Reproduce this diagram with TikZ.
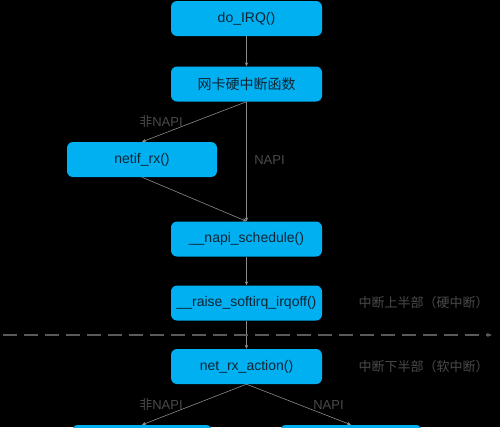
\documentclass[tikz,border=0pt]{standalone}
\usepackage{fontspec}
\setmainfont{Liberation Sans}
\newfontfamily\cjk{Noto Sans CJK SC}
\usetikzlibrary{arrows.meta}
\definecolor{boxblue}{HTML}{00B0F0}
\definecolor{boxtext}{HTML}{102535}
\definecolor{arrowgray}{HTML}{8A8A8A}
\definecolor{labelgray}{HTML}{4A4A4A}
\definecolor{dashgray}{HTML}{5A5A5A}
\begin{document}
\begin{tikzpicture}[x=1bp,y=-1bp,
  fnbox/.style={draw=none,fill=boxblue,rounded corners=6bp,minimum width=151bp,minimum height=35bp,inner sep=0pt,text=boxtext,font=\fontsize{14bp}{16bp}\selectfont},
  conn/.style={draw=arrowgray,line width=0.6bp,-{Stealth[length=4bp,width=3.5bp]}},
  lbl/.style={text=labelgray,font=\fontsize{13bp}{15bp}\selectfont,inner sep=0pt}]
\useasboundingbox (0,0) rectangle (500,427);
\fill[black] (0,0) rectangle (500,427);
\node[fnbox] (irq) at (246.5,18.5) {do\_IRQ()};
\node[fnbox] (nic) at (246.5,84) {\cjk 网卡硬中断函数};
\node[fnbox,minimum width=150bp] (netif) at (142,159.5) {netif\_rx()};
\node[fnbox] (sched) at (246.5,239) {\_\_napi\_schedule()};
\node[fnbox] (raise) at (246.5,303) {\_\_raise\_softirq\_irqoff()};
\node[fnbox] (rx) at (246.5,366.5) {net\_rx\_action()};
\begin{scope}
\clip (0,0) rectangle (500,427);
\node[fnbox,minimum width=140bp] (left) at (142,442.5) {};
\node[fnbox,minimum width=142bp] (right) at (351,442.5) {};
\end{scope}
\draw[conn] (irq.south) -- (nic.north);
\draw[conn] (nic.south) -- (netif.north);
\draw[conn] (nic.south) -- (sched.north);
\draw[conn] (netif.south) -- (sched.north);
\draw[conn] (sched.south) -- (raise.north);
\draw[conn] (raise.south) -- (rx.north);
\draw[conn] (rx.south) -- (left.north);
\draw[conn] (rx.south) -- (right.north);
\coordinate (dl) at (3,335);
\coordinate (dr) at (492,335);
\draw[draw=dashgray,line width=1.5bp,dash pattern=on 14bp off 7bp,-{Stealth[length=5bp,width=4bp]}] (dl) -- (dr);
\node[lbl] (l1) at (161,122) {{\cjk 非}NAPI};
\node[lbl] (l2) at (269.5,160) {NAPI};
\node[lbl] (l3) at (423.5,303) {\cjk 中断上半部（硬中断）};
\node[lbl] (l4) at (423.5,367) {\cjk 中断下半部（软中断）};
\node[lbl] (l5) at (161,405) {{\cjk 非}NAPI};
\node[lbl] (l6) at (328.5,405) {NAPI};
\end{tikzpicture}
\end{document}
